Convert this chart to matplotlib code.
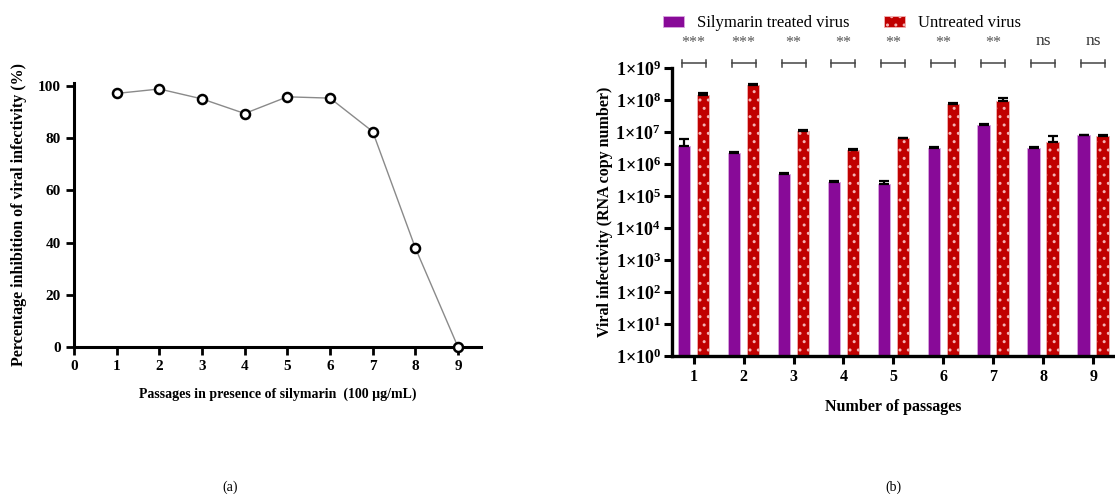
import numpy as np
import matplotlib
matplotlib.use("Agg")
import matplotlib.pyplot as plt
from matplotlib.patches import Patch
import matplotlib.transforms as mtransforms

plt.rcParams['font.family'] = ['Liberation Serif', 'DejaVu Serif']
plt.rcParams['mathtext.fontset'] = 'custom'
plt.rcParams['mathtext.rm'] = 'Liberation Serif'
plt.rcParams['mathtext.bf'] = 'Liberation Serif:bold'

# =====================================================
# data
# =====================================================
# (a) inhibition over passages
passages_a = [1, 2, 3, 4, 5, 6, 7, 8, 9]
inhibition = [97.2, 98.9, 95.1, 89.5, 95.9, 95.4, 82.6, 38.0, 0.0]
xticks_a = [0, 1, 2, 3, 4, 5, 6, 7, 8, 9]
yticks_a = [0, 20, 40, 60, 80, 100]

# (b) viral RNA copies
passages_b = [1, 2, 3, 4, 5, 6, 7, 8, 9]
treated = [3.7e6, 2.2e6, 5.0e5, 2.7e5, 2.3e5, 3.2e6, 1.6e7, 3.2e6, 7.8e6]
treated_err = [2.3e6, 1.5e5, 4.0e4, 2.5e4, 6.0e4, 2.0e5, 1.2e6, 2.5e5, 4.0e5]
untreated = [1.4e8, 2.9e8, 1.1e7, 2.7e6, 6.3e6, 7.4e7, 9.4e7, 5.0e6, 7.5e6]
untreated_err = [2.5e7, 3.0e7, 8.0e5, 2.0e5, 4.0e5, 5.0e6, 2.2e7, 2.5e6, 4.0e5]
signif = ["***", "***", "**", "**", "**", "**", "**", "ns", "ns"]
ytick_exp = [0, 1, 2, 3, 4, 5, 6, 7, 8, 9]

purple = "#880a98"
red = "#c00000"

fig = plt.figure(figsize=(11.15, 4.94), dpi=100)

# =====================================================
# (a)
# =====================================================
ax1 = fig.add_axes([0.0664, 0.2976, 0.3650, 0.5344])
ax1.plot(passages_a, inhibition, color="#8a8a8a", lw=1.0, zorder=2, clip_on=False)
ax1.plot(passages_a, inhibition, "o", ms=6.5, mfc="white", mec="black", mew=1.8,
         zorder=3, clip_on=False)
ax1.set_xlim(0, 9.54)
ax1.set_ylim(0, 101.2)
ax1.set_xticks(xticks_a)
ax1.set_yticks(yticks_a)
for sp in ["top", "right"]:
    ax1.spines[sp].set_visible(False)
for sp in ["left", "bottom"]:
    ax1.spines[sp].set_linewidth(2.2)
ax1.tick_params(width=2, length=6, labelsize=11)
for lab in ax1.get_xticklabels() + ax1.get_yticklabels():
    lab.set_fontweight("bold")
ax1.set_xlabel("Passages in presence of silymarin  (100 µg/mL)", fontsize=10,
               fontweight="bold", labelpad=10)
ax1.set_ylabel("Percentage inhibition of viral infectivity (%)", fontsize=11.5,
               fontweight="bold", labelpad=8)

# =====================================================
# (b)
# =====================================================
ax2 = fig.add_axes([0.6027, 0.2794, 0.3973, 0.5829])
x = np.array(passages_b, dtype=float)
w = 0.256
off = 0.19
ax2.bar(x - off, treated, width=w, color=purple, edgecolor="#d9a6e0", lw=0.6,
        yerr=[np.zeros(len(treated)), treated_err], capsize=3.5,
        error_kw=dict(lw=1.6, capthick=1.6, ecolor="black"), zorder=2)
ax2.bar(x + off, untreated, width=w, color=red, edgecolor="#f3b3b3", lw=0.6,
        hatch="..", yerr=[np.zeros(len(untreated)), untreated_err], capsize=3.5,
        error_kw=dict(lw=1.6, capthick=1.6, ecolor="black"), zorder=2)
ax2.set_yscale("log")
ax2.set_ylim(1, 1e9)
ax2.set_xlim(0.568, 9.434)
ax2.set_yticks([10.0 ** e for e in ytick_exp])
ax2.set_yticklabels([r"$\mathbf{1{\times}10^{%d}}$" % e for e in ytick_exp])
ax2.yaxis.set_minor_locator(matplotlib.ticker.NullLocator())
ax2.set_xticks(passages_b)
for sp in ["top", "right"]:
    ax2.spines[sp].set_visible(False)
for sp in ["left", "bottom"]:
    ax2.spines[sp].set_linewidth(2.4)
ax2.tick_params(width=2.2, length=6, labelsize=11.5)
ax2.tick_params(axis="y", labelsize=13, pad=2)
for lab in ax2.get_xticklabels():
    lab.set_fontweight("bold")
ax2.set_xlabel("Number of passages", fontsize=11.5, fontweight="bold", labelpad=10)
ax2.set_ylabel("Viral infectivity (RNA copy number)", fontsize=11.5,
               fontweight="bold", labelpad=2)

# significance brackets
trans = mtransforms.blended_transform_factory(ax2.transData, ax2.transAxes)
for xi, s in zip(passages_b, signif):
    ax2.plot([xi - 0.24, xi + 0.24], [1.017, 1.017], color="#444444", lw=1.1,
             transform=trans, clip_on=False)
    for xe in (xi - 0.24, xi + 0.24):
        ax2.plot([xe, xe], [1.005, 1.029], color="#444444", lw=1.1,
                 transform=trans, clip_on=False)
    if s == "ns":
        ax2.text(xi, 1.065, s, transform=trans, ha="center", va="bottom",
                 fontsize=12.5, color="#333333")
    else:
        ax2.text(xi, 1.058, s, transform=trans, ha="center", va="bottom",
                 fontsize=11.5, color="#555555")

handles = [Patch(facecolor=purple, edgecolor="#d9a6e0", lw=0.6),
           Patch(facecolor=red, edgecolor="#f3b3b3", lw=0.6, hatch="..")]
fig.legend(handles, ["Silymarin treated virus", "Untreated virus"],
           loc="center left", bbox_to_anchor=(0.5946, 0.953), ncol=2,
           frameon=False, fontsize=12, handlelength=1.25, handleheight=0.7,
           columnspacing=2.05, handletextpad=0.8, borderpad=0, borderaxespad=0)

# captions
fig.text(230 / 1115, 1 - 487 / 494, "(a)", ha="center", va="center", fontsize=10)
fig.text(893 / 1115, 1 - 487 / 494, "(b)", ha="center", va="center", fontsize=10)

fig.savefig("out.png", dpi=100)
